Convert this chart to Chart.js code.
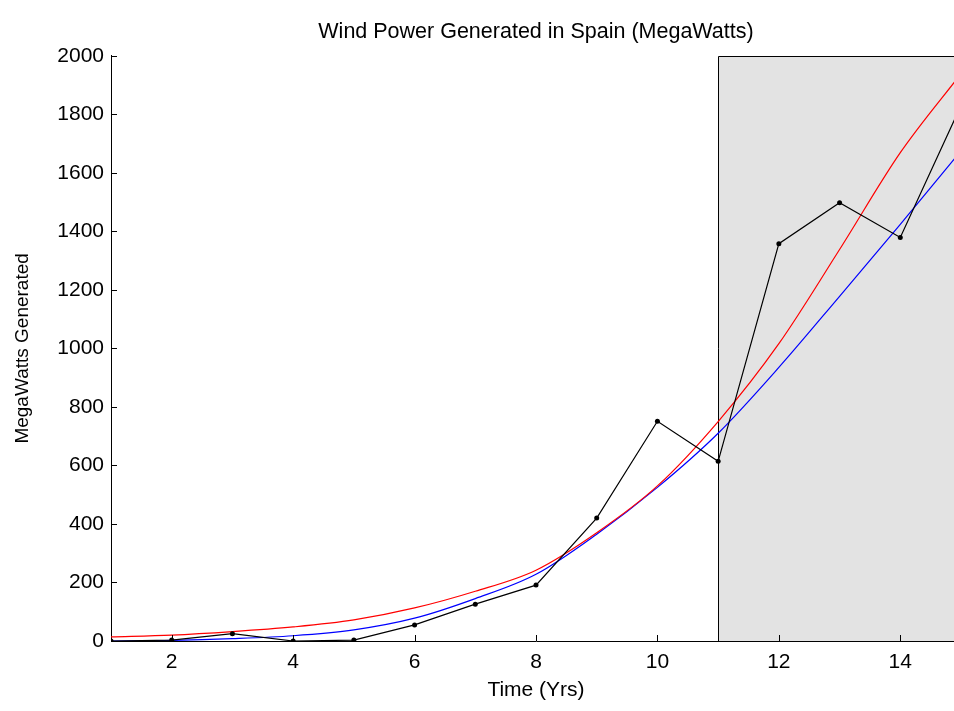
<!DOCTYPE html>
<html>
<head>
<meta charset="utf-8">
<script src="https://cdn.jsdelivr.net/npm/chart.js@4.4.1/dist/chart.umd.min.js"></script>
<style>
  html, body { margin: 0; padding: 0; background: #fff; overflow: hidden; }
  /* the original figure is cut off a few px past x = 15 */
  #wrap { width: 965px; height: 711px; position: relative; }
</style>
</head>
<body>
<div id="wrap"><canvas id="windChart"></canvas></div>
<script>
// data
const years = [1, 2, 3, 4, 5, 6, 7, 8, 9, 10, 11, 12, 13, 14, 15];
const measured = [0, 3, 25, 0, 3, 55, 126, 191, 420, 751, 614, 1358, 1498, 1379, 1830];
const fitRed = [14, 20, 32, 48, 72, 113, 170, 242, 370, 530, 750, 1016, 1338, 1669, 1939];
const fitBlue = [0, 2, 8, 18, 38, 78, 145, 228, 365, 525, 710, 935, 1178, 1424, 1675];
const xTicks = [2, 4, 6, 8, 10, 12, 14];
const yTicks = [0, 200, 400, 600, 800, 1000, 1200, 1400, 1600, 1800, 2000];
const shadeRange = [11, 15];

const fontFamily = "'Liberation Sans', Arial, sans-serif";

function toPoints(ys) {
    return years.map((x, i) => ({ x: x, y: ys[i] }));
}

// grey box for the forecast period, drawn under the lines
const shadePlugin = {
    id: 'shade',
    beforeDatasetsDraw(chart) {
        const { ctx, chartArea, scales } = chart;
        const x0 = Math.round(scales.x.getPixelForValue(shadeRange[0])) + 0.5;
        const x1 = scales.x.getPixelForValue(shadeRange[1]);
        const yTop = Math.round(scales.y.getPixelForValue(2000)) + 0.5;
        const yBot = chartArea.bottom;
        ctx.save();
        ctx.fillStyle = '#e3e3e3';
        ctx.fillRect(x0, yTop, x1 - x0, yBot - yTop);
        ctx.strokeStyle = '#000';
        ctx.lineWidth = 1;
        ctx.beginPath();
        ctx.moveTo(x0, yBot);
        ctx.lineTo(x0, yTop);
        ctx.lineTo(x1, yTop);
        ctx.stroke();
        ctx.restore();
    }
};

// matlab style ticks pointing into the plot
const innerTicks = {
    id: 'innerTicks',
    afterDatasetsDraw(chart) {
        const { ctx, chartArea, scales } = chart;
        const len = 6;
        ctx.save();
        ctx.strokeStyle = '#000';
        ctx.lineWidth = 1;
        ctx.beginPath();
        scales.x.ticks.forEach(t => {
            const px = Math.round(scales.x.getPixelForValue(t.value)) + 0.5;
            ctx.moveTo(px, chartArea.bottom);
            ctx.lineTo(px, chartArea.bottom - len);
        });
        scales.y.ticks.forEach(t => {
            const py = Math.round(scales.y.getPixelForValue(t.value)) + 0.5;
            ctx.moveTo(chartArea.left, py);
            ctx.lineTo(chartArea.left + len, py);
        });
        ctx.stroke();
        ctx.restore();
    }
};

new Chart(document.getElementById('windChart'), {
    type: 'line',
    data: {
        datasets: [{
            label: 'Measured',
            data: toPoints(measured),
            borderColor: '#000',
            backgroundColor: '#000',
            borderWidth: 1.2,
            pointRadius: 2.5,
            pointBorderWidth: 0,
            order: 0
        }, {
            label: 'Fit 1',
            data: toPoints(fitRed),
            borderColor: '#ff0000',
            borderWidth: 1.2,
            pointRadius: 0,
            cubicInterpolationMode: 'monotone',
            order: 1
        }, {
            label: 'Fit 2',
            data: toPoints(fitBlue),
            borderColor: '#0000ff',
            borderWidth: 1.2,
            pointRadius: 0,
            cubicInterpolationMode: 'monotone',
            order: 2
        }]
    },
    options: {
        responsive: true,
        maintainAspectRatio: false,
        animation: false,
        layout: { padding: 0 },
        plugins: {
            legend: { display: false },
            tooltip: { enabled: false },
            title: {
                display: true,
                fullSize: false,
                text: 'Wind Power Generated in Spain (MegaWatts)',
                color: '#000',
                font: { family: fontFamily, size: 21.5, weight: 'normal' },
                padding: { top: 19, bottom: 11 }
            }
        },
        scales: {
            x: {
                type: 'linear',
                min: 1,
                max: 15,
                afterBuildTicks: s => { s.ticks = xTicks.map(v => ({ value: v })); },
                afterFit: s => { s.height = 70; },
                grid: { display: false, drawTicks: false },
                border: { display: true, color: '#000', width: 1 },
                ticks: {
                    color: '#000',
                    padding: 9,
                    maxRotation: 0,
                    callback: v => String(v),
                    font: { family: fontFamily, size: 21 }
                },
                title: {
                    display: true,
                    text: 'Time (Yrs)',
                    color: '#000',
                    font: { family: fontFamily, size: 21 },
                    padding: { top: 2, bottom: 8 }
                }
            },
            y: {
                min: 0,
                max: 2000,
                afterBuildTicks: s => { s.ticks = yTicks.map(v => ({ value: v })); },
                afterFit: s => { s.width = 111; },
                grid: { display: false, drawTicks: false },
                border: { display: true, color: '#000', width: 1 },
                ticks: {
                    color: '#000',
                    padding: 7,
                    callback: v => String(v),
                    font: { family: fontFamily, size: 21 }
                },
                title: {
                    display: true,
                    text: 'MegaWatts Generated',
                    color: '#000',
                    font: { family: fontFamily, size: 19 },
                    padding: { top: 11, bottom: 0 }
                }
            }
        }
    },
    plugins: [shadePlugin, innerTicks]
});
</script>
</body>
</html>
